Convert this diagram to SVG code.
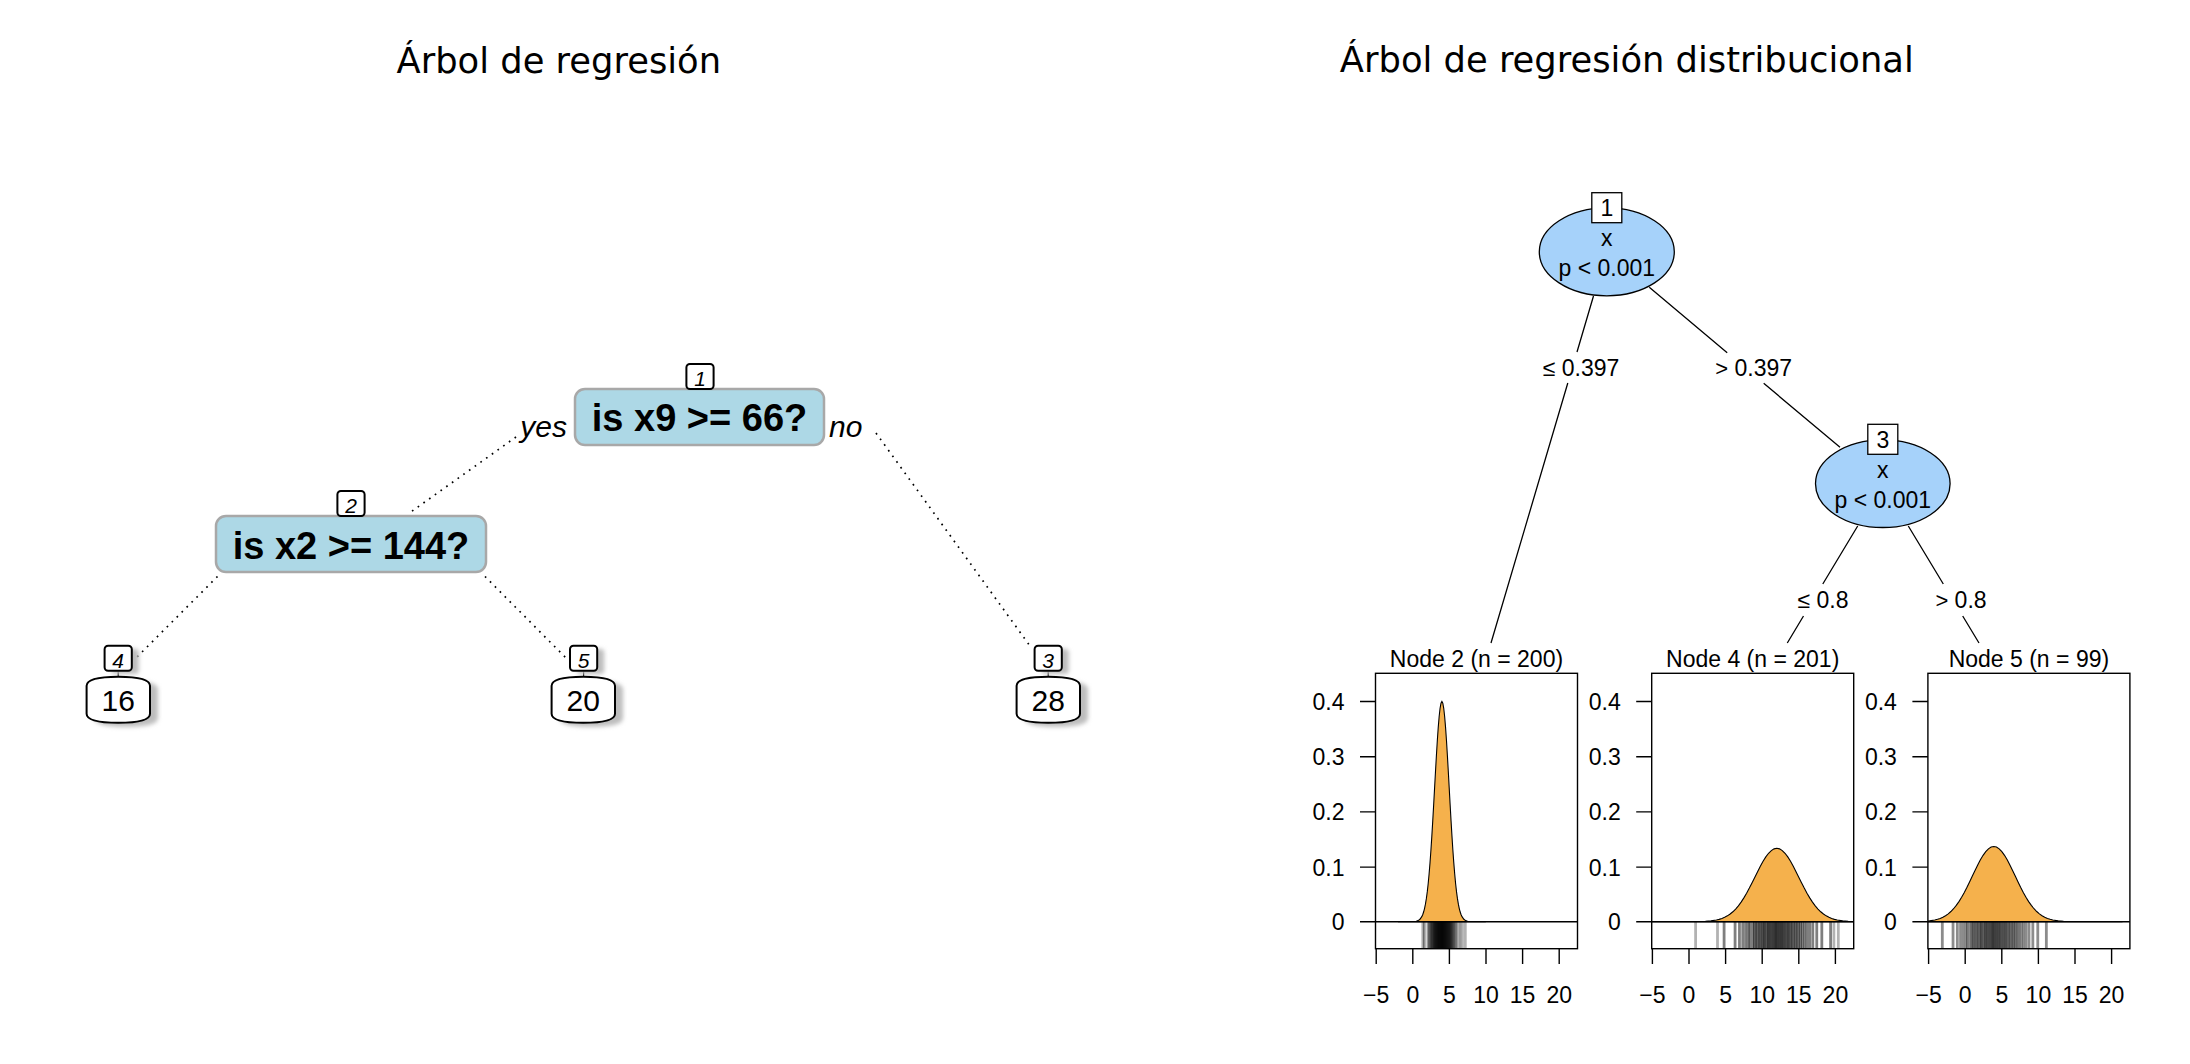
<svg xmlns="http://www.w3.org/2000/svg" xmlns:xlink="http://www.w3.org/1999/xlink" width="2190" height="1064" viewBox="0 0 2190 1064">
<style>
.ttl{font-family:"DejaVu Sans","Liberation Sans",sans-serif;font-size:35.3px;text-anchor:middle;fill:#000}
.q{font-family:"Liberation Sans",Arial,sans-serif;font-weight:bold;font-size:38px;text-anchor:middle;fill:#000}
.yn{font-family:"Liberation Sans",Arial,sans-serif;font-style:italic;font-size:30px;fill:#000}
.nn{font-family:"Liberation Sans",Arial,sans-serif;font-style:italic;font-size:21px;text-anchor:middle;fill:#000}
.lv{font-family:"Liberation Sans",Arial,sans-serif;font-size:30px;text-anchor:middle;fill:#000}
.split{fill:#ADD8E6;stroke:#A8A8A8;stroke-width:2.5}
.nbox{fill:#fff;stroke:#000;stroke-width:2}
.shadow{fill:#BDBDBD;stroke:none}
.dot{fill:none;stroke:#000;stroke-width:1.7;stroke-dasharray:1.7 5.3}
.stub{stroke:#000;stroke-width:1.2}
.r{font-family:"Liberation Sans",Arial,sans-serif;font-size:23px;fill:#000}
.c{text-anchor:middle}
.e{text-anchor:end}
.ell{fill:#A6D2FA;stroke:#000;stroke-width:1.3}
.rbox{fill:#fff;stroke:#000;stroke-width:1.3}
.edge{fill:none;stroke:#000;stroke-width:1.3}
.frame{fill:none;stroke:#000;stroke-width:1.4}
.axis{fill:none;stroke:#000;stroke-width:1.4}
.dens{fill:#F5B14C;stroke:#000;stroke-width:1.1;vector-effect:non-scaling-stroke}
.rug line{stroke:#000;stroke-width:2.8;vector-effect:non-scaling-stroke}
.rugx{stroke:#000;stroke-width:2.8;stroke-opacity:0.3}
</style>
<defs>
<filter id="blur" x="-30%" y="-30%" width="160%" height="160%"><feGaussianBlur stdDeviation="2.2"/></filter>
<rect id="lb" x="-13.6" y="-12.5" width="27.2" height="25" rx="3.5"/>
<path id="lf" d="M-31.7,14 L-31.7,-14 C-31.7,-20.5 -21,-23 0,-23 C21,-23 31.7,-20.5 31.7,-14 L31.7,14 C31.7,20.5 21,23 0,23 C-21,23 -31.7,20.5 -31.7,14 Z"/>
<path id="bell" class="dens" d="M-6,0 L-4.5,-0.00004 L-4,-0.00034 L-3.75,-0.00088 L-3.5,-0.0022 L-3.25,-0.0051 L-3,-0.0111 L-2.75,-0.0228 L-2.625,-0.0319 L-2.5,-0.0439 L-2.375,-0.0596 L-2.25,-0.0796 L-2.125,-0.1046 L-2,-0.1353 L-1.875,-0.1724 L-1.75,-0.2163 L-1.625,-0.2671 L-1.5,-0.3247 L-1.375,-0.3886 L-1.25,-0.4578 L-1.125,-0.5311 L-1,-0.6065 L-0.875,-0.6819 L-0.75,-0.7548 L-0.625,-0.8226 L-0.5,-0.8825 L-0.375,-0.9321 L-0.25,-0.9692 L-0.125,-0.9922 L0,-1 L0.125,-0.9922 L0.25,-0.9692 L0.375,-0.9321 L0.5,-0.8825 L0.625,-0.8226 L0.75,-0.7548 L0.875,-0.6819 L1,-0.6065 L1.125,-0.5311 L1.25,-0.4578 L1.375,-0.3886 L1.5,-0.3247 L1.625,-0.2671 L1.75,-0.2163 L1.875,-0.1724 L2,-0.1353 L2.125,-0.1046 L2.25,-0.0796 L2.375,-0.0596 L2.5,-0.0439 L2.625,-0.0319 L2.75,-0.0228 L3,-0.0111 L3.25,-0.0051 L3.5,-0.0022 L3.75,-0.00088 L4,-0.00034 L4.5,-0.00004 L6,0 Z"/>
<g id="rug" class="rug">
<line x1="-2.4" x2="-2.4" y1="0" y2="27"/><line x1="-1.9" x2="-1.9" y1="0" y2="27"/><line x1="-1.7" x2="-1.7" y1="0" y2="27"/><line x1="-1.55" x2="-1.55" y1="0" y2="27"/><line x1="-1.42" x2="-1.42" y1="0" y2="27"/>
<line x1="-1.3" x2="-1.3" y1="0" y2="27"/><line x1="-1.22" x2="-1.22" y1="0" y2="27"/><line x1="-1.1" x2="-1.1" y1="0" y2="27"/><line x1="-1.02" x2="-1.02" y1="0" y2="27"/><line x1="-0.95" x2="-0.95" y1="0" y2="27"/>
<line x1="-0.88" x2="-0.88" y1="0" y2="27"/><line x1="-0.8" x2="-0.8" y1="0" y2="27"/><line x1="-0.74" x2="-0.74" y1="0" y2="27"/><line x1="-0.66" x2="-0.66" y1="0" y2="27"/><line x1="-0.6" x2="-0.6" y1="0" y2="27"/>
<line x1="-0.55" x2="-0.55" y1="0" y2="27"/><line x1="-0.47" x2="-0.47" y1="0" y2="27"/><line x1="-0.41" x2="-0.41" y1="0" y2="27"/><line x1="-0.36" x2="-0.36" y1="0" y2="27"/><line x1="-0.3" x2="-0.3" y1="0" y2="27"/>
<line x1="-0.24" x2="-0.24" y1="0" y2="27"/><line x1="-0.18" x2="-0.18" y1="0" y2="27"/><line x1="-0.12" x2="-0.12" y1="0" y2="27"/><line x1="-0.07" x2="-0.07" y1="0" y2="27"/><line x1="-0.02" x2="-0.02" y1="0" y2="27"/>
<line x1="0.03" x2="0.03" y1="0" y2="27"/><line x1="0.09" x2="0.09" y1="0" y2="27"/><line x1="0.14" x2="0.14" y1="0" y2="27"/><line x1="0.2" x2="0.2" y1="0" y2="27"/><line x1="0.25" x2="0.25" y1="0" y2="27"/>
<line x1="0.31" x2="0.31" y1="0" y2="27"/><line x1="0.37" x2="0.37" y1="0" y2="27"/><line x1="0.44" x2="0.44" y1="0" y2="27"/><line x1="0.5" x2="0.5" y1="0" y2="27"/><line x1="0.56" x2="0.56" y1="0" y2="27"/>
<line x1="0.63" x2="0.63" y1="0" y2="27"/><line x1="0.7" x2="0.7" y1="0" y2="27"/><line x1="0.77" x2="0.77" y1="0" y2="27"/><line x1="0.85" x2="0.85" y1="0" y2="27"/><line x1="0.92" x2="0.92" y1="0" y2="27"/>
<line x1="1.0" x2="1.0" y1="0" y2="27"/><line x1="1.08" x2="1.08" y1="0" y2="27"/><line x1="1.17" x2="1.17" y1="0" y2="27"/><line x1="1.27" x2="1.27" y1="0" y2="27"/><line x1="1.38" x2="1.38" y1="0" y2="27"/>
<line x1="1.5" x2="1.5" y1="0" y2="27"/><line x1="1.64" x2="1.64" y1="0" y2="27"/><line x1="1.82" x2="1.82" y1="0" y2="27"/><line x1="2.05" x2="2.05" y1="0" y2="27"/><line x1="2.45" x2="2.45" y1="0" y2="27"/>
</g>
<clipPath id="cp1"><rect x="1375.5" y="673.3" width="202" height="275.4"/></clipPath>
<clipPath id="cp2"><rect x="1651.7" y="673.3" width="202" height="275.4"/></clipPath>
<clipPath id="cp3"><rect x="1927.9" y="673.3" width="202" height="275.4"/></clipPath>
</defs>
<rect x="0" y="0" width="2190" height="1064" fill="#fff"/>

<g id="titles">
<text class="ttl" x="558.8" y="72.6">Árbol de regresión</text>
<text class="ttl" x="1626.8" y="72.2">Árbol de regresión distribucional</text>
</g>

<g id="connectors">
<line class="dot" x1="516" y1="437" x2="408" y2="514"/>
<line class="dot" x1="876" y1="433" x2="1030" y2="646"/>
<line class="dot" x1="217.5" y1="576.5" x2="136" y2="658"/>
<line class="dot" x1="485" y1="576.5" x2="568" y2="660"/>
<line class="stub" x1="118.2" y1="670.7" x2="118.2" y2="676.7"/>
<line class="stub" x1="583.6" y1="670.7" x2="583.6" y2="676.7"/>
<line class="stub" x1="1048.2" y1="670.7" x2="1048.2" y2="676.7"/>
<path class="edge" d="M1593.5,296 L1577,352 M1567.8,383 L1491,643"/>
<path class="edge" d="M1649.3,287.3 L1727.2,352.7 M1763.7,383.3 L1840,447.3"/>
<path class="edge" d="M1857.7,526 L1822.8,584 M1803.5,616 L1787.3,643"/>
<path class="edge" d="M1908.3,526 L1943.3,584 M1962.7,616 L1979,643"/>
</g>

<g id="edge-labels">
<text class="yn" x="567" y="436.7" text-anchor="end">yes</text>
<text class="yn" x="829" y="436.7">no</text>
<text class="r c" x="1581" y="376"><tspan font-size="23">≤</tspan> 0.397</text>
<text class="r c" x="1753.7" y="376"><tspan font-size="22">&gt;</tspan> 0.397</text>
<text class="r c" x="1823" y="608.3"><tspan font-size="23">≤</tspan> 0.8</text>
<text class="r c" x="1961" y="608.3"><tspan font-size="22">&gt;</tspan> 0.8</text>
</g>

<g id="rp-node1">
<rect class="split" x="575" y="389" width="249" height="56" rx="10"/>
<text class="q" x="699.5" y="430.7">is x9 &gt;= 66?</text>
<use xlink:href="#lb" class="nbox" x="700" y="376.5"/>
<text class="nn" x="700" y="385.5">1</text>
</g>
<g id="rp-node2">
<rect class="split" x="216" y="516" width="270" height="56" rx="10"/>
<text class="q" x="351" y="559">is x2 &gt;= 144?</text>
<use xlink:href="#lb" class="nbox" x="351" y="503.5"/>
<text class="nn" x="351" y="512.5">2</text>
</g>
<g id="rp-leaf4">
<use xlink:href="#lb" class="shadow" filter="url(#blur)" x="125.2" y="661.5"/>
<use xlink:href="#lf" class="shadow" filter="url(#blur)" x="126.3" y="703.7"/>
<use xlink:href="#lb" class="nbox" x="118.2" y="658.2"/>
<text class="nn" x="118.2" y="667.5">4</text>
<use xlink:href="#lf" class="nbox" x="118.3" y="699.7"/>
<text class="lv" x="118.3" y="710.7">16</text>
</g>
<g id="rp-leaf5">
<use xlink:href="#lb" class="shadow" filter="url(#blur)" x="590.6" y="661.5"/>
<use xlink:href="#lf" class="shadow" filter="url(#blur)" x="591.3" y="703.7"/>
<use xlink:href="#lb" class="nbox" x="583.6" y="658.2"/>
<text class="nn" x="583.6" y="667.5">5</text>
<use xlink:href="#lf" class="nbox" x="583.3" y="699.7"/>
<text class="lv" x="583.3" y="710.7">20</text>
</g>
<g id="rp-leaf3">
<use xlink:href="#lb" class="shadow" filter="url(#blur)" x="1055.2" y="661.5"/>
<use xlink:href="#lf" class="shadow" filter="url(#blur)" x="1056.3" y="703.7"/>
<use xlink:href="#lb" class="nbox" x="1048.2" y="658.2"/>
<text class="nn" x="1048.2" y="667.5">3</text>
<use xlink:href="#lf" class="nbox" x="1048.3" y="699.7"/>
<text class="lv" x="1048.3" y="710.7">28</text>
</g>

<g id="ct-node1">
<ellipse class="ell" cx="1606.8" cy="251.8" rx="67.5" ry="44"/>
<rect class="rbox" x="1591.8" y="192.7" width="30" height="30"/>
<text class="r c" x="1606.8" y="216.3">1</text>
<text class="r c" x="1606.8" y="246">x</text>
<text class="r c" x="1606.8" y="276">p &lt; 0.001</text>
</g>
<g id="ct-node3">
<ellipse class="ell" cx="1882.8" cy="483.7" rx="67.3" ry="43.8"/>
<rect class="rbox" x="1867.8" y="424.3" width="30" height="30"/>
<text class="r c" x="1882.8" y="448">3</text>
<text class="r c" x="1882.8" y="477.6">x</text>
<text class="r c" x="1882.8" y="507.6">p &lt; 0.001</text>
</g>

<g id="ct-node2">
<g clip-path="url(#cp1)">
<use xlink:href="#bell" transform="translate(1441.9,921.7) scale(7.32,220.2)"/>
<use xlink:href="#rug" stroke-opacity="0.4" transform="translate(1441.9,921.7) scale(7.32,1)"/>
<path class="rugx" d="M1422.8,921.7 V948.7 M1462.4,921.7 V948.7 M1465.3,921.7 V948.7"/>
</g>
<line class="axis" x1="1375.5" y1="921.7" x2="1577.5" y2="921.7"/>
<rect class="frame" x="1375.5" y="673.3" width="202" height="275.4"/>
<path class="axis" d="M1360,701.5 H1375.5 M1360,756.7 H1375.5 M1360,811.9 H1375.5 M1360,867.1 H1375.5 M1360,921.7 H1375.5"/>
<path class="axis" d="M1376.2,948.7 V964 M1412.8,948.7 V964 M1449.4,948.7 V964 M1486,948.7 V964 M1522.6,948.7 V964 M1559.2,948.7 V964"/>
<text class="r e" x="1344.5" y="710">0.4</text>
<text class="r e" x="1344.5" y="765.2">0.3</text>
<text class="r e" x="1344.5" y="820.4">0.2</text>
<text class="r e" x="1344.5" y="875.6">0.1</text>
<text class="r e" x="1344.5" y="930.2">0</text>
<text class="r c" x="1376.2" y="1002.7">−5</text>
<text class="r c" x="1412.8" y="1002.7">0</text>
<text class="r c" x="1449.4" y="1002.7">5</text>
<text class="r c" x="1486" y="1002.7">10</text>
<text class="r c" x="1522.6" y="1002.7">15</text>
<text class="r c" x="1559.2" y="1002.7">20</text>
<text class="r c" x="1476.5" y="667.3">Node 2 (n = 200)</text>
</g>

<g id="ct-node4">
<g clip-path="url(#cp2)">
<use xlink:href="#bell" transform="translate(1776.8,921.7) scale(21.96,73.4)"/>
<use xlink:href="#rug" stroke-opacity="0.5" transform="translate(1776.8,921.7) scale(21.96,1)"/>
<path class="rugx" d="M1695.6,921.7 V948.7 M1717.5,921.7 V948.7 M1833.9,921.7 V948.7 M1838.3,921.7 V948.7"/>
</g>
<line class="axis" x1="1651.7" y1="921.7" x2="1853.7" y2="921.7"/>
<rect class="frame" x="1651.7" y="673.3" width="202" height="275.4"/>
<path class="axis" d="M1636.2,701.5 H1651.7 M1636.2,756.7 H1651.7 M1636.2,811.9 H1651.7 M1636.2,867.1 H1651.7 M1636.2,921.7 H1651.7"/>
<path class="axis" d="M1652.4,948.7 V964 M1689,948.7 V964 M1725.6,948.7 V964 M1762.2,948.7 V964 M1798.8,948.7 V964 M1835.4,948.7 V964"/>
<text class="r e" x="1620.7" y="710">0.4</text>
<text class="r e" x="1620.7" y="765.2">0.3</text>
<text class="r e" x="1620.7" y="820.4">0.2</text>
<text class="r e" x="1620.7" y="875.6">0.1</text>
<text class="r e" x="1620.7" y="930.2">0</text>
<text class="r c" x="1652.4" y="1002.7">−5</text>
<text class="r c" x="1689" y="1002.7">0</text>
<text class="r c" x="1725.6" y="1002.7">5</text>
<text class="r c" x="1762.2" y="1002.7">10</text>
<text class="r c" x="1798.8" y="1002.7">15</text>
<text class="r c" x="1835.4" y="1002.7">20</text>
<text class="r c" x="1752.7" y="667.3">Node 4 (n = 201)</text>
</g>

<g id="ct-node5">
<g clip-path="url(#cp3)">
<use xlink:href="#bell" transform="translate(1993.8,921.7) scale(21.45,75.2)"/>
<use xlink:href="#rug" stroke-opacity="0.45" transform="translate(1993.8,921.7) scale(21.45,1)"/>
</g>
<line class="axis" x1="1927.9" y1="921.7" x2="2129.9" y2="921.7"/>
<rect class="frame" x="1927.9" y="673.3" width="202" height="275.4"/>
<path class="axis" d="M1912.4,701.5 H1927.9 M1912.4,756.7 H1927.9 M1912.4,811.9 H1927.9 M1912.4,867.1 H1927.9 M1912.4,921.7 H1927.9"/>
<path class="axis" d="M1928.6,948.7 V964 M1965.2,948.7 V964 M2001.8,948.7 V964 M2038.4,948.7 V964 M2075,948.7 V964 M2111.6,948.7 V964"/>
<text class="r e" x="1896.9" y="710">0.4</text>
<text class="r e" x="1896.9" y="765.2">0.3</text>
<text class="r e" x="1896.9" y="820.4">0.2</text>
<text class="r e" x="1896.9" y="875.6">0.1</text>
<text class="r e" x="1896.9" y="930.2">0</text>
<text class="r c" x="1928.6" y="1002.7">−5</text>
<text class="r c" x="1965.2" y="1002.7">0</text>
<text class="r c" x="2001.8" y="1002.7">5</text>
<text class="r c" x="2038.4" y="1002.7">10</text>
<text class="r c" x="2075" y="1002.7">15</text>
<text class="r c" x="2111.6" y="1002.7">20</text>
<text class="r c" x="2028.9" y="667.3">Node 5 (n = 99)</text>
</g>
</svg>
